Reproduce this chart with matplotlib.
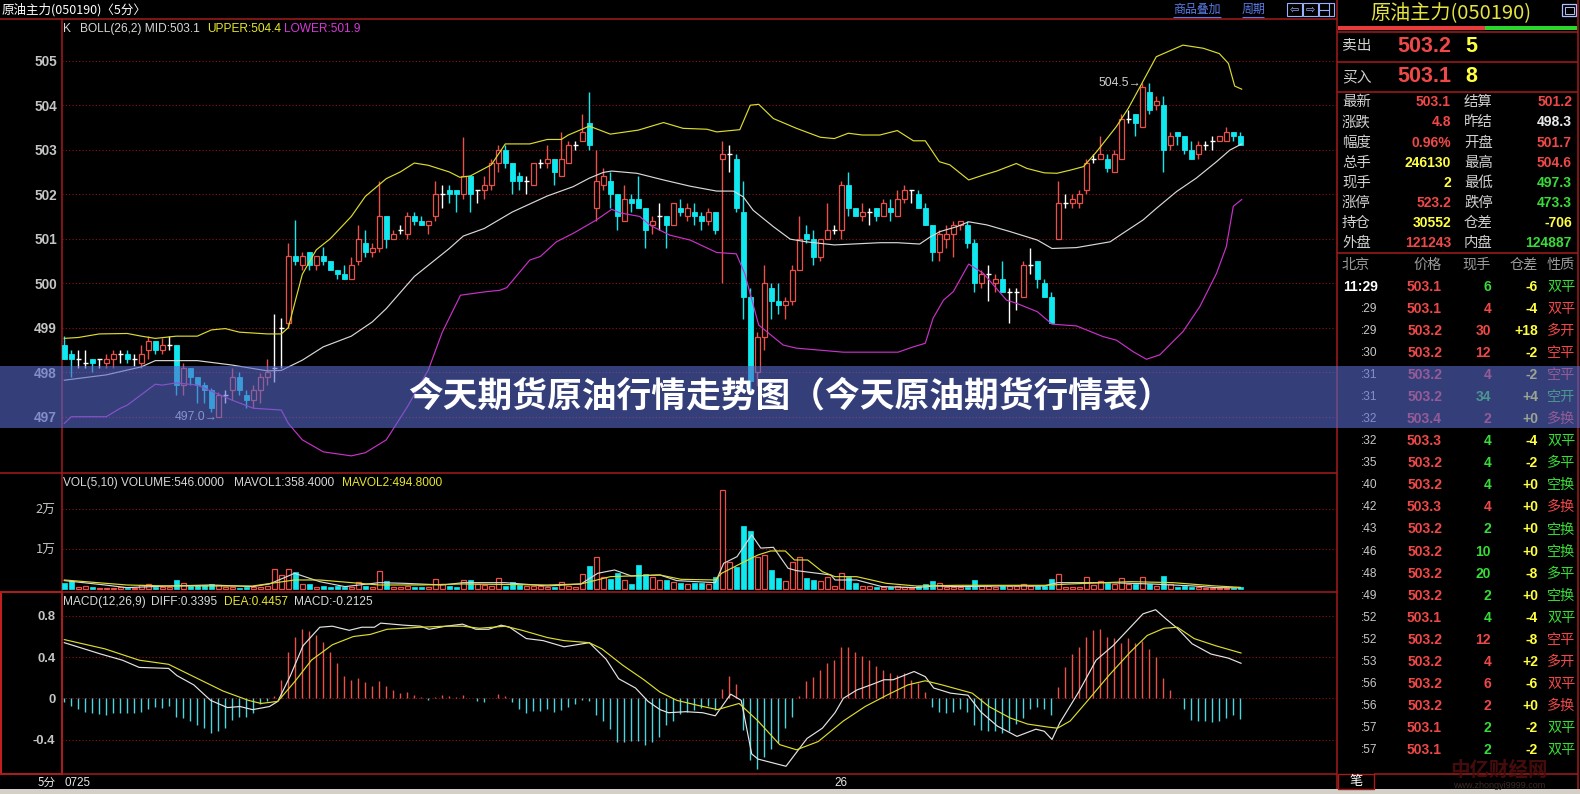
import matplotlib
matplotlib.use('Agg')
import matplotlib.pyplot as plt
from matplotlib.patches import Rectangle
import numpy as np

# ---------------- data ----------------
opens = [498.61,498.41,498.29,498.20,498.29,498.29,498.20,498.29,498.41,498.41,
         498.29,498.20,498.50,498.70,498.50,498.61,498.61,497.71,498.09,497.90,
         497.71,497.60,497.00,497.49,497.60,497.90,497.49,497.38,497.60,497.90,
         498.09,499.00,499.10,500.60,500.40,500.69,500.40,500.60,500.50,500.30,
         500.20,500.10,500.50,500.90,500.70,500.80,501.50,501.00,501.20,501.10,
         501.50,501.40,501.30,501.50,502.00,502.10,502.10,502.00,502.40,502.10,
         502.10,502.20,502.70,503.00,502.70,502.40,502.30,502.20,502.70,502.70,
         502.80,502.40,502.70,503.10,503.20,503.60,501.70,502.20,502.30,502.00,
         501.40,501.90,501.90,501.70,501.30,501.50,501.50,501.30,501.70,501.50,
         501.60,501.50,501.40,501.60,502.80,502.90,502.80,501.60,499.70,498.00,
         498.80,499.90,499.60,499.50,499.60,500.30,501.10,501.00,500.60,501.00,
         501.20,501.20,502.20,501.70,501.50,501.60,501.70,501.50,501.70,501.50,
         501.90,502.10,502.00,501.70,501.30,500.70,501.00,501.10,501.30,501.30,
         500.90,500.00,500.20,500.00,500.10,499.80,499.80,499.70,500.40,500.50,
         500.00,499.70,501.00,501.80,501.80,501.80,502.10,502.80,502.80,502.80,
         502.50,502.80,503.70,503.80,503.50,504.30,504.00,504.00,503.10,503.40,
         503.30,503.00,502.90,503.10,503.20,503.20,503.20,503.40,503.30]
highs = [498.81,498.50,498.50,498.50,498.29,498.29,498.41,498.50,498.50,498.50,
         498.41,498.61,498.81,498.70,498.76,498.81,498.61,498.20,498.09,497.90,
         497.78,497.65,497.55,497.60,498.09,498.00,497.60,497.71,497.98,498.29,
         499.31,499.21,500.90,501.42,500.71,500.69,500.60,500.81,500.50,500.30,
         500.40,500.60,501.30,501.20,500.90,502.30,501.50,501.20,501.30,501.60,
         501.60,501.50,501.40,502.30,502.20,502.20,502.10,503.29,502.40,502.10,
         502.40,502.80,503.10,503.10,502.70,502.50,502.40,502.70,502.80,503.10,
         502.80,503.40,503.20,503.20,503.80,504.30,503.00,502.60,502.50,502.00,
         502.20,502.00,502.40,501.70,501.50,501.80,501.50,501.80,501.90,501.80,
         501.80,501.60,501.70,501.60,503.20,503.10,502.90,502.30,499.90,498.90,
         500.40,500.00,500.00,499.70,500.40,501.50,501.30,501.20,501.00,501.80,
         501.30,502.30,502.50,501.70,501.80,501.70,501.70,501.90,501.90,502.10,
         502.20,502.10,502.10,501.80,501.30,501.20,501.30,501.40,501.40,501.40,
         501.00,500.30,500.40,500.20,500.50,499.90,499.90,500.50,500.80,500.50,
         500.10,499.80,502.30,502.00,502.00,502.10,502.80,502.90,503.30,502.90,
         503.00,503.80,503.90,503.80,504.50,504.50,504.20,504.20,503.40,503.40,
         503.30,503.20,503.20,503.20,503.30,503.30,503.50,503.40,503.40]
lows = [498.29,497.90,498.10,498.10,498.00,498.10,498.10,498.10,498.20,498.20,
        498.15,498.10,498.29,498.41,498.41,498.50,497.49,497.49,497.71,497.30,
        497.30,497.10,497.00,497.30,497.38,497.49,497.19,497.19,497.30,497.71,
        497.78,498.09,499.00,500.40,500.30,500.30,500.30,500.40,500.30,500.10,
        500.10,500.10,500.40,500.60,500.60,500.70,500.80,501.00,501.10,501.00,
        501.30,501.30,501.10,501.40,501.70,501.80,501.60,501.90,501.60,501.80,
        501.90,502.10,502.50,502.60,502.00,502.10,502.00,502.20,502.60,502.60,
        502.20,502.40,502.70,503.00,503.20,503.00,501.40,502.10,501.70,501.20,
        501.40,501.60,501.70,500.80,501.10,501.20,500.80,501.30,501.50,501.40,
        501.30,501.20,501.30,501.10,500.00,502.50,501.60,499.20,497.60,497.70,
        498.50,499.20,499.30,499.20,499.50,500.30,500.90,500.40,500.50,501.00,
        501.10,501.00,501.50,501.50,501.40,501.30,501.40,501.50,501.40,501.50,
        501.80,501.80,501.70,501.30,500.50,500.50,500.80,500.60,501.20,500.80,
        499.80,499.90,499.60,499.80,499.80,499.10,499.40,499.70,500.20,499.90,
        499.70,499.10,501.00,501.70,501.70,501.70,502.00,502.70,502.80,502.50,
        502.50,502.80,503.60,503.30,503.50,503.80,503.90,502.50,503.00,503.10,
        502.90,502.80,502.80,503.00,503.00,503.20,503.20,503.20,503.10]
closes = [498.29,498.29,498.29,498.20,498.20,498.29,498.29,498.41,498.41,498.29,
          498.29,498.41,498.70,498.50,498.61,498.61,497.71,498.09,497.90,497.71,
          497.60,497.19,497.49,497.49,497.90,497.60,497.38,497.60,497.90,498.00,
          498.09,499.00,500.60,500.50,500.60,500.40,500.60,500.50,500.30,500.20,
          500.10,500.40,501.00,500.70,500.80,501.50,501.00,501.10,501.20,501.50,
          501.40,501.30,501.40,502.00,502.00,502.00,502.00,502.40,502.00,502.10,
          502.20,502.70,503.00,502.70,502.30,502.30,502.30,502.70,502.70,502.80,
          502.50,502.80,503.10,503.10,503.40,503.10,502.30,502.40,502.00,501.50,
          501.90,501.80,501.70,501.20,501.40,501.50,501.30,501.80,501.60,501.70,
          501.50,501.40,501.60,501.20,502.90,502.90,501.70,499.70,497.80,498.80,
          500.00,499.60,499.50,499.60,500.30,501.00,501.00,500.60,501.00,501.20,
          501.20,502.20,501.70,501.50,501.60,501.60,501.50,501.80,501.60,501.90,
          502.10,502.10,501.70,501.30,500.70,501.10,501.10,501.30,501.40,500.90,
          500.00,500.20,500.20,500.10,499.80,499.80,499.80,500.40,500.40,500.10,
          499.70,499.10,501.80,501.80,501.90,502.00,502.70,502.80,502.90,502.60,
          502.90,503.70,503.70,503.60,504.40,503.90,504.10,503.00,503.30,503.30,
          503.00,502.80,503.10,503.10,503.20,503.30,503.40,503.30,503.10]
volumes = [1700,2200,700,800,500,350,350,350,500,400,
           400,1100,1250,700,700,700,2300,1500,800,1100,
           1100,1250,1100,500,500,400,500,500,700,800,
           5200,3600,5100,4300,1250,1300,700,800,700,800,
           700,700,1800,800,700,4600,2100,500,700,900,
           500,500,500,2600,1250,800,700,2300,2300,1250,
           1100,800,2750,800,1800,1100,800,800,800,700,
           700,1800,800,700,3750,5800,8000,3000,2600,4000,
           2300,1300,6000,3750,3200,2300,2300,1900,1700,1300,
           1700,1700,1300,3000,24800,6750,5500,15800,14600,8200,
           8600,4800,2800,2100,6900,8000,2800,2300,2100,3000,
           800,4000,3200,1700,900,800,600,500,700,800,
           700,400,800,1250,2100,1500,700,700,700,700,
           2300,800,800,700,800,800,800,1250,800,800,
           800,2600,3750,700,500,700,3000,1100,2200,1500,
           1300,2750,1300,1300,3000,1300,800,3300,1300,700,
           800,600,600,450,300,250,400,300,546]
macd_hist = [-0.04,-0.07,-0.10,-0.13,-0.14,-0.15,-0.16,-0.14,-0.14,-0.14,
             -0.14,-0.13,-0.10,-0.08,-0.09,-0.07,-0.18,-0.19,-0.22,-0.26,
             -0.29,-0.34,-0.32,-0.29,-0.21,-0.18,-0.18,-0.14,-0.06,-0.03,
             0.02,0.18,0.45,0.60,0.67,0.65,0.61,0.55,0.45,0.34,
             0.22,0.18,0.20,0.16,0.12,0.17,0.12,0.08,0.05,0.06,
             0.03,0.01,-0.015,0.01,0.03,0.02,0.01,0.03,0.0,-0.03,
             -0.04,0.0,0.045,0.02,-0.04,-0.10,-0.14,-0.12,-0.12,-0.10,
             -0.13,-0.11,-0.08,-0.06,-0.02,-0.03,-0.16,-0.22,-0.30,-0.42,
             -0.42,-0.41,-0.41,-0.45,-0.42,
             -0.38,-0.26,-0.22,-0.15,-0.13,-0.11,-0.09,-0.07,-0.11,0.09,
             0.22,0.14,-0.31,-0.60,-0.69,-0.57,-0.49,-0.43,-0.29,-0.18,
             0.02,0.17,0.21,0.27,0.34,0.37,0.50,0.50,0.45,0.41,
             0.37,0.31,0.27,0.25,0.23,0.25,0.18,0.15,0.06,-0.08,
             -0.13,-0.14,-0.13,-0.10,-0.13,-0.26,-0.31,-0.32,-0.32,-0.34,
             -0.32,-0.25,-0.19,-0.10,-0.08,-0.10,-0.16,0.11,0.30,0.43,
             0.50,0.60,0.66,0.67,0.60,0.59,0.54,0.59,0.54,0.56,
             0.48,0.40,0.20,0.08,0.0,-0.10,-0.21,-0.22,-0.22,-0.23,
             -0.22,-0.19,-0.16,-0.20]

upper_idx = [0,2,5,9,11,13,16,19,21,23,25,29,31,32,33,34,36,38,41,43,
             46,48,50,52,55,56.5,58,61,63,66.5,69,71,72,75,78,82,85.6,88.4,91.8,93.2,
             96.5,98,99.2,101.3,104.6,108,110,112,114,116.5,119,121.3,123,125,126.5,129.2,131.3,133.2,136,137.5,
             140,141.8,143.7,145.6,147.5,150.3,152,153.7,156,159.8,162.7,165,166.3,167.2,168.2]
upper = [498.76,498.78,498.86,498.87,498.81,498.76,498.81,498.81,498.95,498.98,
         498.90,498.86,498.86,499.0,499.6,500.2,500.75,501.0,501.5,501.95,
         502.35,502.5,502.7,502.65,502.5,502.38,502.41,502.66,503.13,503.13,
         503.23,503.23,503.33,503.53,503.35,503.44,503.61,503.48,503.46,503.40,
         503.45,504.0,504.02,503.7,503.48,503.28,503.25,503.37,503.33,503.33,
         503.43,503.2,503.2,502.73,502.66,502.32,502.43,502.52,502.69,502.58,
         502.48,502.47,502.54,502.62,502.96,503.52,503.93,504.42,505.09,505.35,
         505.28,505.16,504.94,504.43,504.36]
mid_idx = [0,6,11,13,19,24,29,31,34,37,41,44,46,50,55,57,60,64,69,72.7,
           75,77,78.2,81.8,85.6,89.4,93.2,95.6,97,98.4,101.3,103.7,106,110,116.5,119,122.2,123.7,125.1,127.5,
           129.2,131.8,135.1,139,141.1,144.6,149.4,151.3,154.1,156,158.9,161.7,164.6,166.5,168.2]
mid = [497.82,497.94,498.12,498.26,498.26,498.16,498.03,498.04,498.27,498.57,
       498.81,499.13,499.43,500.15,500.78,501.06,501.23,501.6,501.96,502.17,
       502.36,502.49,502.52,502.47,502.32,502.18,502.07,502.07,501.94,501.64,
       501.27,500.99,500.93,500.86,500.91,500.91,500.88,501.04,501.16,501.27,
       501.38,501.31,501.16,500.97,500.78,500.80,500.93,501.13,501.42,501.68,
       502.06,502.36,502.73,502.99,503.13]
lower_idx = [0,1,6,8,9,13,14,16,19,24,27,31,32,34,37,41,43,46,49,52,
             54,56.6,60.3,62.2,63.2,66.5,68,70.3,72.7,76,78.2,79.4,82.2,83.7,86.5,89.4,93.2,96,97.2,99.2,
             102.7,104.6,111.3,116.5,119.1,121.3,123,124.1,125.6,127,129.2,131.3,134.6,136,139,141.1,144.6,148.4,150.3,152.7,
             154.6,156.5,159.8,162.2,164.6,166,167,168.2]
lower = [496.85,497.0,497.0,497.19,497.26,497.73,497.71,497.76,497.71,497.37,
         497.19,497.15,496.85,496.48,496.21,496.12,496.19,496.48,497.22,498.05,
         498.9,499.73,499.81,499.84,499.9,500.52,500.6,500.93,501.12,501.42,
         501.66,501.58,501.5,501.3,501.08,500.97,500.69,500.66,500.22,499.06,
         498.61,498.54,498.45,498.45,498.45,498.57,498.65,499.21,499.62,499.81,
         500.43,500.22,499.62,499.55,499.36,499.08,499.04,498.8,498.72,498.46,
         498.29,498.39,498.91,499.47,500.22,500.82,501.73,501.88]

mavol1_idx = [0,5.8,8.9,14.9,20.9,26.9,29.3,32.9,36.5,40.1,45,48.5,54,57,63,69,73.8,76.2,78.6,81,
              85.1,87.5,93,94.2,96.1,98.2,99.5,101.3,103.4,104.6,109.5,110.1,113.2,116.8,121.7,124.2,127.8,133.9,140,141.9,
              149.2,155.3,161.4,164.5,168]
mavol1 = [2170,1080,420,830,1080,670,1330,4000,1910,670,1660,1500,1080,1660,1660,830,1330,4000,4830,3330,
          3580,2170,1660,6500,8160,13600,10300,10500,5250,4670,3580,2330,2330,670,420,830,670,830,830,1660,
          1660,1330,830,420,358]
mavol2_idx = [0,8.9,14.9,26.9,32.9,36.5,45,51,57,69,73.8,78,85.1,88.1,93,93.9,96.7,99.1,100.9,103,
              104.3,106.2,108.3,110.1,113.2,117.4,121.7,127.8,133.9,140,143.7,152.3,158.4,164.5,168]
mavol2 = [2330,1080,830,830,2330,2330,1080,1080,1330,1080,1330,3160,3580,2500,2330,4000,6500,8580,9580,9580,
          7330,7330,4410,3160,3160,1500,830,1000,1000,1000,1330,1910,1660,830,495]

diff_idx = [0,5.2,8.3,10.7,14.9,16.1,18.5,20.9,23.3,25.1,26.9,29.3,30.5,32.3,34.1,36.5,38.3,40.7,42.5,44.3,
            45.2,48.5,50.9,52.1,54.5,56.9,58.8,60.6,62.4,63.6,66,68.4,71.4,73.2,75,77.4,79.2,81.6,83.4,85.1,
            86.3,88.8,91.2,93,95.2,96.7,98.2,99.1,103.1,106.1,108.3,110.1,111.3,113.2,115.6,117.1,118.4,121.4,123,124.2,
            126.6,129.1,130.9,133.3,136.1,138.8,140,141.1,142.2,144.9,147.4,149.8,152.3,154.1,155.9,157.4,159,161.1,163.8,166.3,
            168.1]
diff = [0.54,0.43,0.37,0.30,0.29,0.22,0.13,-0.02,-0.09,-0.08,-0.11,-0.08,-0.03,0.22,0.51,0.69,0.70,0.66,0.69,0.69,
        0.73,0.71,0.70,0.67,0.70,0.72,0.67,0.67,0.71,0.69,0.58,0.56,0.50,0.52,0.54,0.38,0.19,0.10,-0.03,-0.11,
        -0.14,-0.13,-0.14,-0.17,0.04,-0.02,-0.54,-0.59,-0.66,-0.39,-0.29,-0.14,0.0,0.08,0.14,0.18,0.18,0.26,0.21,0.10,
        0.05,0.03,-0.13,-0.27,-0.37,-0.30,-0.32,-0.40,-0.24,0.06,0.37,0.51,0.69,0.82,0.86,0.77,0.68,0.53,0.43,0.39,
        0.34]
dea_idx = [0,5.8,10.7,14.9,18.5,22.7,26.3,28.1,30.5,32.9,35.3,38.3,41.3,43.7,46.1,50.9,54.5,56.9,59.3,63,
           65.4,69,71.4,75,76.8,79.8,82.8,85.1,87.5,90.6,93.3,96.4,99.1,102.2,104.6,107.7,111.3,114.4,117.5,120.5,
           123,125.4,129.7,132.1,135.1,137.6,140.6,141.9,143.7,146.1,149.2,152.3,154.7,157.1,159,161.4,164.5,168.1]
dea = [0.57,0.48,0.37,0.33,0.21,0.07,-0.02,-0.05,-0.03,0.16,0.37,0.52,0.60,0.62,0.67,0.69,0.70,0.70,0.68,0.70,
       0.66,0.59,0.56,0.54,0.48,0.32,0.18,0.06,-0.02,-0.07,-0.11,-0.05,-0.22,-0.45,-0.50,-0.42,-0.22,-0.08,0.03,0.13,
       0.17,0.13,0.05,-0.08,-0.19,-0.25,-0.28,-0.29,-0.22,-0.03,0.22,0.45,0.61,0.68,0.69,0.58,0.51,0.44]

price_ticks = [497, 498, 499, 500, 501, 502, 503, 504, 505]
vol_ticks = [10000, 20000]
vol_tick_labels = ['1万', '2万']
macd_ticks = [-0.4, 0, 0.4, 0.8]
macd_tick_labels = ['-0.4', '0', '0.4', '0.8']
date_tick_idx = [0, 110]
date_tick_labels = ['0725', '26']

quote_left_labels = ['最新', '涨跌', '幅度', '总手', '现手', '涨停', '持仓', '外盘']
quote_left_values = ['503.1', '4.8', '0.96%', '246130', '2', '523.2', '30552', '121243']
quote_left_colors = ['r', 'r', 'r', 'y', 'y', 'r', 'y', 'r']
quote_right_labels = ['结算', '昨结', '开盘', '最高', '最低', '跌停', '仓差', '内盘']
quote_right_values = ['501.2', '498.3', '501.7', '504.6', '497.3', '473.3', '-706', '124887']
quote_right_colors = ['r', 'w', 'r', 'r', 'g', 'g', 'y', 'g']

trade_time = ['11:29', ':29', ':29', ':30', ':31', ':31', ':32', ':32', ':35', ':40', ':42',
              ':43', ':46', ':48', ':49', ':52', ':52', ':53', ':56', ':56', ':57', ':57']
trade_price = ['503.1', '503.1', '503.2', '503.2', '503.2', '503.2', '503.4', '503.3', '503.2', '503.2', '503.3',
               '503.2', '503.2', '503.2', '503.2', '503.1', '503.2', '503.2', '503.2', '503.2', '503.1', '503.1']
trade_vol = ['6', '4', '30', '12', '4', '34', '2', '4', '4', '4', '4',
             '2', '10', '20', '2', '4', '12', '4', '6', '2', '2', '2']
trade_oi = ['-6', '-4', '+18', '-2', '-2', '+4', '+0', '-4', '-2', '+0', '+0',
            '+0', '+0', '-8', '+0', '-4', '-8', '+2', '-6', '+0', '-2', '-2']
trade_type = ['双平', '双平', '多开', '空平', '空平', '空开', '多换', '双平', '多平', '空换', '多换',
              '空换', '空换', '多平', '空换', '双平', '空平', '多开', '双平', '多换', '双平', '双平']
trade_dir = ['g', 'r', 'r', 'r', 'r', 'g', 'r', 'g', 'g', 'g', 'r',
             'g', 'g', 'g', 'g', 'g', 'r', 'r', 'r', 'r', 'g', 'g']

# ---------------- styling ----------------
W, H = 1580, 794
RED = '#e8504a'
CYAN = '#10e8f0'
CYAN2 = '#4cd4dc'
YEL = '#dcdc2c'
MAG = '#c832c8'
WHT = '#d8d8d8'
GRID = '#8c1414'
FRAME = '#a41c1c'
LABEL = '#c4c4c4'
QCOL = {'r': '#f04848', 'g': '#38dc38', 'y': '#ffff40', 'w': '#e8e8e8'}
CJK = ['Noto Sans CJK SC', 'DejaVu Sans']
LAT = ['Liberation Sans', 'DejaVu Sans']

fig = plt.figure(figsize=(W / 100, H / 100), dpi=100, facecolor='black')

bg = fig.add_axes([0, 0, 1, 1], zorder=0)
bg.set_xlim(0, W)
bg.set_ylim(H, 0)
bg.axis('off')


def pax(x0, y0, x1, y1):
    ax = fig.add_axes([x0 / W, 1 - y1 / H, (x1 - x0) / W, (y1 - y0) / H], zorder=1)
    ax.set_facecolor('none')
    for s in ax.spines.values():
        s.set_visible(False)
    ax.tick_params(length=0, colors=LABEL)
    return ax


XL, XR = (61.7 - 64.3) / 7, (1337 - 64.3) / 7
O = np.array(opens); Hh = np.array(highs); L = np.array(lows); C = np.array(closes)
x = np.arange(len(O))
up = C > O
dn = C < O
dj = C == O

# ---- price panel ----
pa = pax(61.7, 19, 1337, 472.5)
pa.set_xlim(XL, XR)
pa.set_ylim(505 - (472.5 - 60.7) / 44.5, 505 + (60.7 - 19) / 44.5)
pa.set_xticks([])
pa.set_yticks(price_ticks, labels=[str(t) for t in price_ticks])
for t in pa.get_yticklabels():
    t.set_fontfamily(LAT); t.set_fontweight('bold'); t.set_fontsize(9.8); t.set_color(LABEL)
pa.tick_params(axis='y', pad=3.4)
pa.grid(axis='y', color=GRID, linestyle=(0, (1, 2)), linewidth=0.8)
pa.set_axisbelow(True)

wick_cols = np.where(up, RED, np.where(dn, CYAN, 'white'))
pa.vlines(x, L, Hh, colors=wick_cols, linewidth=1.0, zorder=2)
pa.bar(x[up], (C - O)[up], bottom=O[up], width=0.7, facecolor='black', edgecolor=RED, linewidth=0.9, zorder=3)
pa.bar(x[dn], (O - C)[dn], bottom=C[dn], width=0.7, facecolor=CYAN, edgecolor=CYAN, linewidth=0.6, zorder=3)
pa.hlines(C[dj], x[dj] - 0.38, x[dj] + 0.38, colors='white', linewidth=1.0, zorder=3)

pa.plot(upper_idx, upper, color=YEL, lw=0.85, zorder=4)
pa.plot(mid_idx, mid, color=WHT, lw=0.85, zorder=4)
pa.plot(lower_idx, lower, color=MAG, lw=0.85, zorder=4)

imax = int(np.argmax(Hh)); imin = int(np.argmin(L))
pa.text(imax - 0.1, Hh[imax], '%.1f→' % Hh[imax], ha='right', va='center', color='#d0d0d0',
        fontsize=8.8, family=LAT, zorder=5)
pa.text(imin - 0.1, L[imin], '%.1f→' % L[imin], ha='right', va='center', color='#d0d0d0',
        fontsize=8.8, family=LAT, zorder=5)

# ---- volume panel ----
va = pax(61.7, 472.5, 1337, 592)
va.set_xlim(XL, XR)
va.set_ylim((589.3 - 592) * 250, (589.3 - 472.5) * 250)
va.set_xticks([])
va.set_yticks(vol_ticks, labels=vol_tick_labels)
for t in va.get_yticklabels():
    t.set_fontfamily(CJK); t.set_fontsize(9.2); t.set_color(LABEL)
va.tick_params(axis='y', pad=4.5)
va.grid(axis='y', color=GRID, linestyle=(0, (1, 2)), linewidth=0.8)
va.set_axisbelow(True)
V = np.array(volumes, dtype=float)
vup = C >= O
va.bar(x[vup], V[vup], width=0.7, facecolor='black', edgecolor=RED, linewidth=0.9, zorder=3)
va.bar(x[~vup], V[~vup], width=0.7, facecolor=CYAN, edgecolor=CYAN, linewidth=0.5, zorder=3)
va.plot(mavol1_idx, mavol1, color=WHT, lw=0.85, zorder=4)
va.plot(mavol2_idx, mavol2, color=YEL, lw=0.85, zorder=4)

# ---- MACD panel ----
ma = pax(61.7, 592, 1337, 774)
ma.set_xlim(XL, XR)
ma.set_ylim(-(774 - 698.3) / 103, (698.3 - 592) / 103)
ma.set_yticks(macd_ticks, labels=macd_tick_labels)
for t in ma.get_yticklabels():
    t.set_fontfamily(LAT); t.set_fontweight('bold'); t.set_fontsize(9.4); t.set_color(LABEL)
ma.tick_params(axis='y', pad=4.5)
ma.set_xticks(date_tick_idx, labels=date_tick_labels)
for t in ma.get_xticklabels():
    t.set_fontfamily(LAT); t.set_fontsize(8.4); t.set_color('#e6e6e6'); t.set_ha('left')
ma.tick_params(axis='x', pad=2.0)
ma.grid(axis='y', color=GRID, linestyle=(0, (1, 2)), linewidth=0.8)
ma.set_axisbelow(True)
Mh = np.array(macd_hist)
ma.vlines(x, 0, Mh, colors=np.where(Mh >= 0, RED, CYAN2), linewidth=1.0, zorder=3)
ma.plot(diff_idx, diff, color='#e4e4e4', lw=0.85, zorder=4)
ma.plot(dea_idx, dea, color=YEL, lw=0.85, zorder=4)

# ---- frame lines / left side ----
def hline(y, x0, x1, c=FRAME, lw=1.1):
    bg.plot([x0, x1], [y, y], color=c, lw=lw, solid_capstyle='butt')

def vline(xx, y0, y1, c=FRAME, lw=1.1):
    bg.plot([xx, xx], [y0, y1], color=c, lw=lw, solid_capstyle='butt')

hline(19, 0, 1337)
hline(472.5, 0, 1337)
hline(592, 0, 1337)
hline(774, 0, 1337)
vline(61.7, 19, 774)
vline(1337, 0, 789)
vline(1577.5, 0, 789)
bg.add_patch(Rectangle((0.8, 592), 60.9, 182, fill=False, edgecolor='#c82020', lw=1.4))
bg.add_patch(Rectangle((0, 789), W, 5, facecolor='#d4d0c8', edgecolor='none'))

bg.text(2, 9.5, '原油主力(050190)〈5分〉', color='white', fontsize=9, family=CJK, va='center')
bg.text(1197, 9.5, '商品叠加', color='#5a7ce8', fontsize=8.6, family=CJK, va='center', ha='center')
bg.text(1253, 9.5, '周期', color='#5a7ce8', fontsize=8.6, family=CJK, va='center', ha='center')
hline(17, 1173, 1221, c='#5a7ce8', lw=0.8)
hline(17, 1242, 1264, c='#5a7ce8', lw=0.8)
for bx, sym in [(1287, '⇦'), (1303, '⇨'), (1319, '')]:
    bg.add_patch(Rectangle((bx, 3), 15, 13, fill=False, edgecolor='#9ab0ff', lw=0.8))
    if sym:
        bg.text(bx + 7.5, 9.5, sym, color='#9ab0ff', fontsize=8, family=['DejaVu Sans'], ha='center', va='center')
bg.plot([1329, 1329], [3, 16], color='#9ab0ff', lw=0.8)
bg.plot([1319, 1329], [9.5, 9.5], color='#9ab0ff', lw=0.8)

# legends
bg.text(63, 29.3, 'K', color='#d8d8d8', fontsize=8.6, family=LAT, va='center')
bg.text(79.5, 29.3, 'BOLL(26,2) MID:503.1', color='#d8d8d8', fontsize=8.6, family=LAT, va='center')
bg.text(207.6, 29.3, 'UPPER:504.4', color='#e6e62c', fontsize=8.6, family=LAT, va='center')
bg.text(284.4, 29.3, 'LOWER:501.9', color='#d838d8', fontsize=8.6, family=LAT, va='center')
bg.text(63, 482.7, 'VOL(5,10) VOLUME:546.0000', color='#d8d8d8', fontsize=8.6, family=LAT, va='center')
bg.text(233.6, 482.7, 'MAVOL1:358.4000', color='#d8d8d8', fontsize=8.6, family=LAT, va='center')
bg.text(341.8, 482.7, 'MAVOL2:494.8000', color='#e6e62c', fontsize=8.6, family=LAT, va='center')
bg.text(63, 602.3, 'MACD(12,26,9)', color='#d8d8d8', fontsize=8.6, family=LAT, va='center')
bg.text(151.5, 602.3, 'DIFF:0.3395', color='#d8d8d8', fontsize=8.6, family=LAT, va='center')
bg.text(224, 602.3, 'DEA:0.4457', color='#e6e62c', fontsize=8.6, family=LAT, va='center')
bg.text(293.8, 602.3, 'MACD:-0.2125', color='#d8d8d8', fontsize=8.6, family=LAT, va='center')
bg.text(56, 782, '5分', color='#e6e6e6', fontsize=8.4, family=CJK, va='center', ha='right')

# ---- right quote panel ----
bg.text(1451, 13.5, '原油主力(050190)', color='#e4e440', fontsize=14.5, family=CJK, ha='center', va='center')
bg.add_patch(Rectangle((1562, 4), 14, 12, fill=False, edgecolor='#b0c0ff', lw=0.9))
bg.add_patch(Rectangle((1564.5, 6.5), 9, 7, fill=False, edgecolor='#b0c0ff', lw=0.7))
bg.add_patch(Rectangle((1338, 25.5), 146.5, 4.5, facecolor='#e83c3c', edgecolor='none'))
bg.add_patch(Rectangle((1484.5, 25.5), 92.5, 4.5, facecolor='#2ad62a', edgecolor='none'))
hline(32, 1337, 1578)
hline(61.7, 1337, 1578)
hline(92.3, 1337, 1578)
hline(253.3, 1337, 1578)

for lbl, price, qty, yy in [('卖出', '503.2', '5', 46), ('买入', '503.1', '8', 77)]:
    bg.text(1342, yy, lbl, color='#d0d0d0', fontsize=10.6, family=CJK, va='center')
    bg.text(1451, yy, price, color=QCOL['r'], fontsize=15.5, family=LAT, fontweight='bold', ha='right', va='center')
    bg.text(1465, yy, qty, color=QCOL['y'], fontsize=15.5, family=LAT, fontweight='bold', ha='left', va='center')

for k in range(len(quote_left_labels)):
    yy = 102.3 + 20.14 * k
    bg.text(1342, yy, quote_left_labels[k], color='#d0d0d0', fontsize=10.4, family=CJK, va='center')
    bg.text(1451, yy, quote_left_values[k], color=QCOL[quote_left_colors[k]], fontsize=10, family=LAT,
            fontweight='bold', ha='right', va='center')
    bg.text(1464, yy, quote_right_labels[k], color='#d0d0d0', fontsize=10.4, family=CJK, va='center')
    bg.text(1572, yy, quote_right_values[k], color=QCOL[quote_right_colors[k]], fontsize=10, family=LAT,
            fontweight='bold', ha='right', va='center')

hy = 265
bg.text(1342, hy, '北京', color='#9a9a9a', fontsize=10.2, family=CJK, va='center')
bg.text(1442, hy, '价格', color='#9a9a9a', fontsize=10.2, family=CJK, va='center', ha='right')
bg.text(1491, hy, '现手', color='#9a9a9a', fontsize=10.2, family=CJK, va='center', ha='right')
bg.text(1538, hy, '仓差', color='#9a9a9a', fontsize=10.2, family=CJK, va='center', ha='right')
bg.text(1547, hy, '性质', color='#9a9a9a', fontsize=10.2, family=CJK, va='center', ha='left')

for k in range(len(trade_time)):
    yy = 286.7 + 22.07 * k
    if k == 0:
        bg.text(1378, yy, trade_time[k], color='white', fontsize=10, family=LAT, fontweight='bold',
                ha='right', va='center')
    else:
        bg.text(1377, yy, trade_time[k], color='#c8c8c8', fontsize=8.6, family=LAT, ha='right', va='center')
    bg.text(1442, yy, trade_price[k], color=QCOL['r'], fontsize=10, family=LAT, fontweight='bold',
            ha='right', va='center')
    bg.text(1491, yy, trade_vol[k], color=QCOL[trade_dir[k]], fontsize=10, family=LAT, fontweight='bold',
            ha='right', va='center')
    bg.text(1538, yy, trade_oi[k], color=QCOL['y'], fontsize=10, family=LAT, fontweight='bold',
            ha='right', va='center')
    bg.text(1547, yy, trade_type[k], color=QCOL[trade_dir[k]], fontsize=10.2, family=CJK, ha='left', va='center')

hline(774, 1374, 1578)
bg.add_patch(Rectangle((1338, 774), 36, 14.5, fill=False, edgecolor=FRAME, lw=1.0))
bg.text(1356, 781.5, '笔', color='white', fontsize=9.5, family=CJK, ha='center', va='center')
bg.text(1499, 770, '中亿财经网', color='#4e0e0e', fontsize=14, family=CJK, fontweight='bold',
        style='italic', ha='center', va='center', alpha=0.9)
bg.text(1499, 785, 'www.zhongyi9999.com', color='#3e2a2a', fontsize=6.5, family=LAT,
        ha='center', va='center')

# ---- title banner ----
top = fig.add_axes([0, 0, 1, 1], zorder=10)
top.set_xlim(0, W)
top.set_ylim(H, 0)
top.axis('off')
top.add_patch(Rectangle((0, 366), W, 62, facecolor='#5869cb', alpha=0.6, edgecolor='none'))
top.text(790, 396, '今天期货原油行情走势图（今天原油期货行情表）', color='white', fontsize=25,
         family=CJK, fontweight='bold', ha='center', va='center')

fig.savefig('out.png', dpi=100, facecolor='black')
